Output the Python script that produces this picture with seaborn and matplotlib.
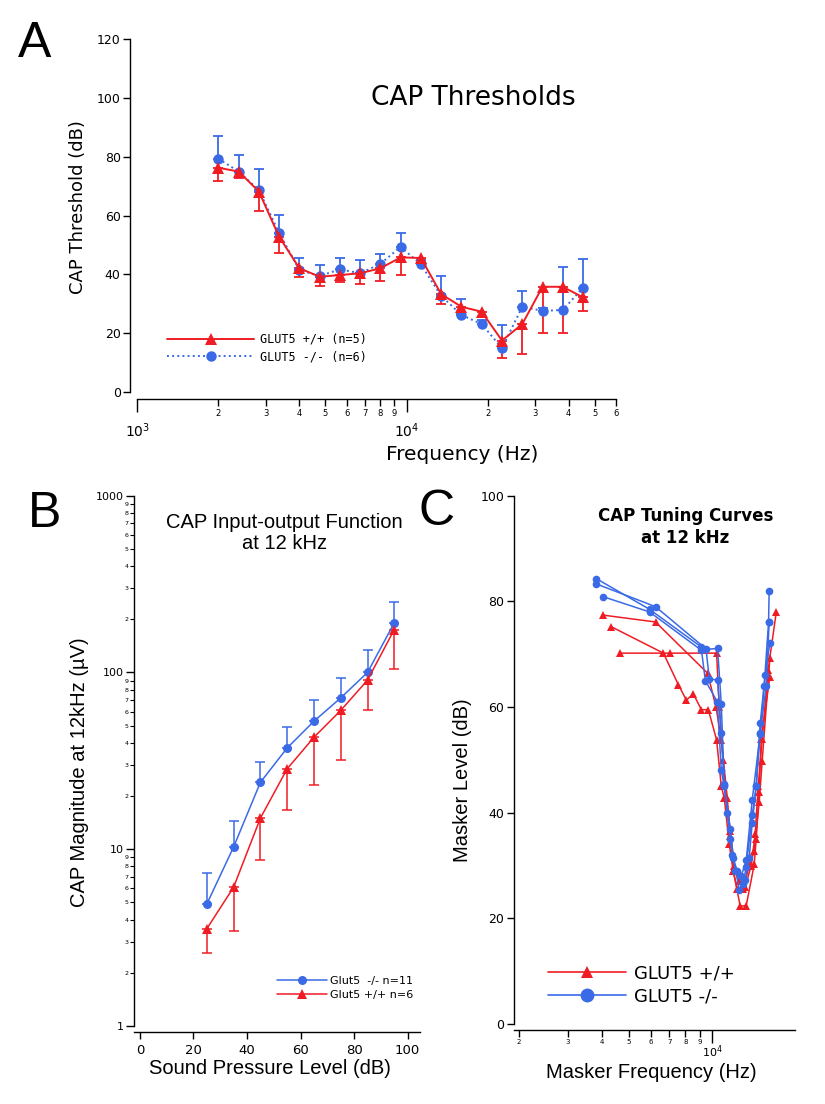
import numpy as np
import pandas as pd
import matplotlib
matplotlib.use('Agg')
import matplotlib.pyplot as plt
from matplotlib.ticker import FixedLocator, FixedFormatter
from matplotlib.lines import Line2D
import seaborn as sns

sns.set_style('ticks')
plt.rcParams['font.family'] = ['DejaVu Sans']
plt.rcParams.update({'axes.edgecolor': 'black', 'xtick.color': 'black', 'ytick.color': 'black',
                     'text.color': 'black', 'axes.labelcolor': 'black', 'axes.linewidth': 1.0})

RED = '#f01c24'
BLUE = '#3a6ae6'

# ---- A: CAP thresholds (dB) vs frequency
thr_freq = [2000, 2380, 2830, 3360, 4000, 4760, 5660, 6730, 8000, 9510,
            11310, 13450, 16000, 19030, 22630, 26910, 32000, 38060, 45250]
thr_wt = [76.3, 75.0, 68.2, 52.9, 42.1, 39.2, 39.8, 40.4, 42.1, 45.8,
          45.6, 33.3, 29.0, 27.3, 17.5, 23.1, 35.8, 35.8, 32.2]
thr_wt_lo = [71.7, 72.9, 61.7, 47.2, 39.1, 36.1, 37.3, 36.9, 37.9, 39.7,
             44.0, 29.9, 27.0, 25.4, 11.7, 12.8, 20.2, 20.2, 27.7]
thr_ko = [79.4, 75.0, 68.7, 54.2, 41.5, 39.5, 41.7, 40.4, 43.6, 49.4,
          43.4, 32.7, 26.2, 23.1, 14.9, 29.0, 27.6, 27.9, 35.5]
thr_ko_hi = [87.2, 80.6, 76.0, 60.2, 45.7, 43.2, 45.7, 44.8, 47.1, 54.2,
             45.0, 39.6, 31.8, 24.5, 22.9, 34.5, 28.5, 42.4, 45.3]
a_minor_ticks = [2000, 3000, 4000, 5000, 6000, 7000, 8000, 9000, 20000, 30000, 40000, 50000, 60000]
a_minor_labels = ['2', '3', '4', '5', '6', '7', '8', '9', '2', '3', '4', '5', '6']

# ---- B: input-output function at 12 kHz
spl = [25, 35, 45, 55, 65, 75, 85, 95]
io_ko = [4.9, 10.3, 23.9, 37.4, 53, 71.8, 100, 191]
io_ko_hi = [7.3, 14.5, 31.2, 49, 70, 93, 134, 250]
io_wt = [3.55, 6.1, 15.0, 28.5, 43, 61, 90.5, 175]
io_wt_lo = [2.58, 3.46, 8.7, 16.7, 23, 32, 61, 104]
b_minor_ticks = [2, 3, 4, 5, 6, 7, 8, 9, 20, 30, 40, 50, 60, 70, 80, 90,
                 200, 300, 400, 500, 600, 700, 800, 900]
b_minor_labels = ['2', '3', '4', '5', '6', '7', '8', '9'] * 3

# ---- C: tuning curves at 12 kHz (three ears per genotype)
wt1_f = [4024, 6233, 9617, 10312, 10776, 11325, 11612, 11906, 12614, 13261, 14172, 14408, 14771, 15019, 16140]
wt1_db = [77.4, 76.1, 66.4, 60.0, 53.8, 42.8, 35.5, 29.0, 22.3, 22.4, 30.2, 35.0, 44.0, 53.9, 65.7]
wt2_f = [4314, 6659, 7543, 8058, 8541, 9128, 9674, 10363, 10776, 11045, 11516, 11906, 12307, 12936, 13596, 14172, 14771, 15141, 16140]
wt2_db = [75.2, 70.2, 64.2, 61.3, 62.5, 59.5, 59.5, 53.8, 45.0, 42.8, 34.0, 28.9, 25.5, 25.5, 30.0, 32.7, 42.0, 49.7, 69.2]
wt3_f = [4622, 7057, 10363, 10597, 10935, 11231, 11612, 12006, 12509, 13151, 13827, 14290, 14649, 15141, 15910, 17030]
wt3_db = [70.2, 70.2, 70.2, 60.0, 50.0, 43.0, 36.5, 30.0, 27.0, 26.0, 30.0, 36.0, 45.0, 53.9, 67.0, 78.0]
ko1_f = [3809, 5930, 9106, 9436, 10424, 10776, 11045, 11612, 11906, 12509, 13151, 13596, 13938, 14408, 14895, 15396, 15970, 16049]
ko1_db = [84.3, 78.5, 71.4, 65.0, 61.0, 48.0, 45.0, 37.0, 31.5, 25.4, 27.3, 31.5, 38.0, 45.0, 55.0, 64.0, 76.0, 82.0]
ko2_f = [3809, 6233, 9491, 9754, 10450, 10776, 11045, 11325, 11806, 12307, 12936, 13261, 13938, 14408, 14895, 15523, 16140]
ko2_db = [83.3, 79.0, 71.0, 65.3, 65.1, 55.0, 45.3, 40.0, 32.0, 28.9, 26.5, 29.8, 39.5, 45.0, 56.9, 66.0, 72.1]
ko3_f = [4024, 5930, 9106, 10450, 10776, 11045, 11612, 12106, 12722, 13261, 13938, 14895, 15650, 16049]
ko3_db = [80.9, 78.0, 70.8, 71.1, 60.5, 45.5, 35.0, 29.0, 28.0, 31.0, 42.4, 54.9, 64.0, 76.0]
c_minor_ticks = [2000, 3000, 4000, 5000, 6000, 7000, 8000, 9000, 20000]
c_minor_labels = ['2', '3', '4', '5', '6', '7', '8', '9', '2']

W, H = 825, 1104
def fx(px):
    return px / W
def fy(py):
    return 1 - py / H

fig = plt.figure(figsize=(8.25, 11.04), dpi=100)

# ================= A =================
axA = fig.add_axes([fx(137.3), fy(392), (616 - 137.3) / W, (392 - 39.3) / H])
axA.set_xscale('log')
axA.errorbar(thr_freq, thr_wt, yerr=[np.subtract(thr_wt, thr_wt_lo), np.zeros(len(thr_wt))],
             fmt='none', ecolor=RED, elinewidth=1.3, capsize=3.5, capthick=1.3, zorder=1)
axA.errorbar(thr_freq, thr_ko, yerr=[np.zeros(len(thr_ko)), np.subtract(thr_ko_hi, thr_ko)],
             fmt='none', ecolor=BLUE, elinewidth=1.3, capsize=3.5, capthick=1.3, zorder=1)
sns.lineplot(x=thr_freq, y=thr_ko, color=BLUE, marker='o', markersize=7.5, markeredgewidth=0,
             linestyle=':', linewidth=1.4, ax=axA, zorder=2)
sns.lineplot(x=thr_freq, y=thr_wt, color=RED, marker='^', markersize=8, markeredgewidth=0,
             linewidth=1.4, ax=axA, zorder=3)
axA.set_xlim(1000, 60000)
axA.set_ylim(0, 120)
axA.set_yticks([0, 20, 40, 60, 80, 100, 120])
axA.xaxis.set_major_locator(FixedLocator([1000, 10000]))
axA.xaxis.set_major_formatter(FixedFormatter(['$10^{3}$', '$10^{4}$']))
axA.xaxis.set_minor_locator(FixedLocator(a_minor_ticks))
axA.xaxis.set_minor_formatter(FixedFormatter(a_minor_labels))
axA.tick_params(axis='x', which='major', length=9, width=1, pad=7, labelsize=10)
axA.tick_params(axis='x', which='minor', length=5, width=1, pad=2, labelsize=6)
axA.tick_params(axis='y', length=5, width=1, pad=2, labelsize=9)
axA.set_xlabel('')
axA.set_ylabel('')
sns.despine(ax=axA, offset=5)
hA = [Line2D([], [], color=RED, marker='^', markersize=8, markeredgewidth=0, linewidth=1.4),
      Line2D([], [], color=BLUE, marker='o', markersize=7.5, markeredgewidth=0, linewidth=1.4, linestyle=':')]
fig.legend(hA, ['GLUT5 +/+ (n=5)', 'GLUT5 -/- (n=6)'], loc='center left',
           bbox_to_anchor=(fx(167), fy(348)), frameon=False, borderpad=0, borderaxespad=0,
           handlelength=7.4, handletextpad=0.5, labelspacing=0.35,
           prop={'family': 'DejaVu Sans Mono', 'size': 8.5})
fig.text(fx(473), fy(98), 'CAP Thresholds', fontsize=19, ha='center', va='center')
fig.text(fx(78), fy(207), 'CAP Threshold (dB)', fontsize=13, rotation=90, ha='center', va='center')
fig.text(fx(462), fy(455), 'Frequency (Hz)', fontsize=14.5, ha='center', va='center')
fig.text(fx(35), fy(44), 'A', fontsize=36, ha='center', va='center', family='Liberation Sans')

# ================= B =================
axB = fig.add_axes([fx(134), fy(1026), (420 - 134) / W, (1026 - 495.7) / H])
axB.set_yscale('log')
axB.errorbar(spl, io_wt, yerr=[np.subtract(io_wt, io_wt_lo), np.zeros(len(io_wt))],
             fmt='none', ecolor=RED, elinewidth=1.1, capsize=3.5, capthick=1.1, zorder=1)
axB.errorbar(spl, io_ko, yerr=[np.zeros(len(io_ko)), np.subtract(io_ko_hi, io_ko)],
             fmt='none', ecolor=BLUE, elinewidth=1.1, capsize=3.5, capthick=1.1, zorder=1)
sns.lineplot(x=spl, y=io_ko, color=BLUE, marker='o', markersize=6.5, markeredgewidth=0,
             linewidth=1.1, ax=axB, zorder=2)
sns.lineplot(x=spl, y=io_wt, color=RED, marker='^', markersize=7, markeredgewidth=0,
             linewidth=1.1, ax=axB, zorder=3)
axB.set_xlim(-2.2, 104.6)
axB.set_ylim(1, 1000)
axB.set_xticks([0, 20, 40, 60, 80, 100])
axB.yaxis.set_major_locator(FixedLocator([1, 10, 100, 1000]))
axB.yaxis.set_major_formatter(FixedFormatter(['1', '10', '100', '1000']))
axB.yaxis.set_minor_locator(FixedLocator(b_minor_ticks))
axB.yaxis.set_minor_formatter(FixedFormatter(b_minor_labels))
axB.tick_params(axis='y', which='major', length=6, width=1, pad=1, labelsize=8)
axB.tick_params(axis='y', which='minor', length=3, width=0.8, pad=1, labelsize=4.5)
axB.tick_params(axis='x', length=5, width=1, pad=4, labelsize=9.5)
axB.set_xlabel('')
axB.set_ylabel('')
sns.despine(ax=axB, offset={'left': 0, 'bottom': 4})
hB = [Line2D([], [], color=BLUE, marker='o', markersize=6.5, markeredgewidth=0, linewidth=1.1),
      Line2D([], [], color=RED, marker='^', markersize=7, markeredgewidth=0, linewidth=1.1)]
fig.legend(hB, ['Glut5  -/- n=11', 'Glut5 +/+ n=6'], loc='center left',
           bbox_to_anchor=(fx(277), fy(988)), frameon=False, borderpad=0, borderaxespad=0,
           handlelength=4.5, handletextpad=0.3, labelspacing=0.3, prop={'size': 8})
fig.text(fx(284.5), fy(533), 'CAP Input-output Function\nat 12 kHz', fontsize=14.5,
         ha='center', va='center', family='Liberation Sans', linespacing=1.15)
fig.text(fx(80), fy(772), 'CAP Magnitude at 12kHz (\u00b5V)', fontsize=14.5, rotation=90,
         ha='center', va='center', family='Liberation Sans')
fig.text(fx(270), fy(1068), 'Sound Pressure Level (dB)', fontsize=14.5, ha='center', va='center',
         family='Liberation Sans')
fig.text(fx(45), fy(514), 'B', fontsize=36, ha='center', va='center', family='Liberation Sans')

# ================= C =================
curves = [('wt1', '+/+', wt1_f, wt1_db), ('wt2', '+/+', wt2_f, wt2_db), ('wt3', '+/+', wt3_f, wt3_db),
          ('ko1', '-/-', ko1_f, ko1_db), ('ko2', '-/-', ko2_f, ko2_db), ('ko3', '-/-', ko3_f, ko3_db)]
tc = pd.concat([pd.DataFrame({'curve': c, 'geno': g, 'freq': f, 'level': d}) for c, g, f, d in curves],
               ignore_index=True)

axC = fig.add_axes([fx(514), fy(1024), (795 - 514) / W, (1024 - 495.7) / H])
axC.set_xscale('log')
sns.lineplot(data=tc, x='freq', y='level', hue='geno', style='geno', units='curve', estimator=None,
             sort=False, palette={'+/+': RED, '-/-': BLUE}, markers={'+/+': '^', '-/-': 'o'},
             dashes=False, markersize=5.5, markeredgewidth=0, linewidth=1.1, legend=False, ax=axC)
axC.set_xlim(1920, 19900)
axC.set_ylim(0, 100)
axC.set_yticks([0, 20, 40, 60, 80, 100])
axC.xaxis.set_major_locator(FixedLocator([10000]))
axC.xaxis.set_major_formatter(FixedFormatter(['$10^{4}$']))
axC.xaxis.set_minor_locator(FixedLocator(c_minor_ticks))
axC.xaxis.set_minor_formatter(FixedFormatter(c_minor_labels))
axC.tick_params(axis='x', which='major', length=9, width=1, pad=1, labelsize=8)
axC.tick_params(axis='x', which='minor', length=5, width=1, pad=2, labelsize=5)
axC.tick_params(axis='y', length=5, width=1, pad=2, labelsize=9)
axC.set_xlabel('')
axC.set_ylabel('')
sns.despine(ax=axC, offset={'left': 0, 'bottom': 4})
hC = [Line2D([], [], color=RED, marker='^', markersize=9, markeredgewidth=0, linewidth=1.2),
      Line2D([], [], color=BLUE, marker='o', markersize=10, markeredgewidth=0, linewidth=1.2)]
fig.legend(hC, ['GLUT5 +/+', 'GLUT5 -/-'], loc='center left',
           bbox_to_anchor=(fx(548), fy(985)), frameon=False, borderpad=0, borderaxespad=0,
           handlelength=4.3, handletextpad=0.45, labelspacing=0.25, prop={'size': 13})
fig.text(fx(685.5), fy(527), 'CAP Tuning Curves\nat 12 kHz', fontsize=12, fontweight='bold',
         ha='center', va='center', linespacing=1.35)
fig.text(fx(651), fy(1073), 'Masker Frequency (Hz)', fontsize=14.5, ha='center', va='center',
         family='Liberation Sans')
fig.text(fx(463), fy(780), 'Masker Level (dB)', fontsize=14.5, rotation=90, ha='center', va='center',
         family='Liberation Sans')
fig.text(fx(437), fy(512), 'C', fontsize=36, ha='center', va='center', family='Liberation Sans')

fig.savefig('out.png', dpi=100)
